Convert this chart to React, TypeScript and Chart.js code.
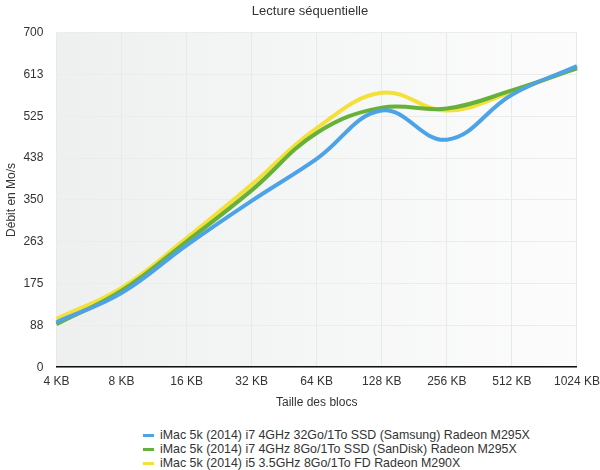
import React, { useEffect, useRef } from "react";
import { Chart, registerables } from "chart.js";

Chart.register(...registerables);

const categories = ["4 KB", "8 KB", "16 KB", "32 KB", "64 KB", "128 KB", "256 KB", "512 KB", "1024 KB"];
const seriesNames = [
  "iMac 5k (2014) i7 4GHz 32Go/1To SSD (Samsung) Radeon M295X",
  "iMac 5k (2014) i7 4GHz 8Go/1To SSD (SanDisk) Radeon M295X",
  "iMac 5k (2014) i5 3.5GHz 8Go/1To FD Radeon M290X",
];
const blueValues = [94, 155, 255, 348, 436, 537, 476, 570, 630];
const greenValues = [90, 160, 263, 370, 490, 543, 541, 579, 625];
const yellowValues = [101, 166, 270, 382, 500, 574, 537, 576, 627];
const seriesColors = ["#4ea3e6", "#66b13a", "#f4e03a"];
const yTicks = [0, 87.5, 175, 262.5, 350, 437.5, 525, 612.5, 700];

const FONT = "'Liberation Sans', Arial, sans-serif";

const bgPlugin = {
  id: "plotBg",
  beforeDraw(chart: any) {
    const { ctx, chartArea } = chart;
    if (!chartArea) return;
    const g = ctx.createLinearGradient(chartArea.left, 0, chartArea.right, 0);
    g.addColorStop(0, "#eef0f0");
    g.addColorStop(1, "#fcfcfc");
    ctx.save();
    ctx.fillStyle = g;
    ctx.fillRect(chartArea.left, chartArea.top, chartArea.right - chartArea.left, chartArea.bottom - chartArea.top);
    ctx.restore();
  },
};

export default function App() {
  const ref = useRef<HTMLCanvasElement>(null);
  useEffect(() => {
    if (!ref.current) return;
    const data = [blueValues, greenValues, yellowValues];
    const chart = new Chart(ref.current, {
      type: "line",
      data: {
        labels: categories,
        datasets: data.map((d, i) => ({
          label: seriesNames[i],
          data: d,
          borderColor: seriesColors[i],
          backgroundColor: seriesColors[i],
          borderWidth: 4,
          pointRadius: 0,
          tension: 0.4,
          fill: false,
          order: i,
        })),
      },
      options: {
        animation: false,
        responsive: false,
        maintainAspectRatio: false,
        layout: { padding: { left: 4, right: -9, top: 0, bottom: 0 } },
        plugins: {
          legend: { display: false },
          tooltip: { enabled: false },
          title: {
            display: true,
            text: "Lecture séquentielle",
            color: "#333",
            font: { family: FONT, size: 13, weight: "normal" },
            padding: { top: 4, bottom: 13 },
          },
        },
        scales: {
          x: {
            offset: false,
            grid: { color: "#e8eaea", drawTicks: false },
            border: { display: true, color: "#111", width: 1.5 },
            ticks: {
              color: "#333",
              font: { family: FONT, size: 12 },
              padding: 7,
              maxRotation: 0,
              autoSkip: false,
            },
            title: {
              display: true,
              text: "Taille des blocs",
              color: "#333",
              font: { family: FONT, size: 12 },
              padding: { top: 0, bottom: 0 },
            },
          },
          y: {
            min: 0,
            max: 700,
            afterBuildTicks(scale: any) {
              scale.ticks = yTicks.map((v) => ({ value: v }));
            },
            afterFit(scale: any) {
              scale.width = scale.width - 8;
            },
            grid: { color: "#ebeded", drawTicks: false },
            border: { display: false },
            ticks: {
              color: "#333",
              font: { family: FONT, size: 12 },
              padding: 13,
              callback: (v: any) => String(Math.round(Number(v))),
            },
            title: {
              display: true,
              text: "Débit en Mo/s",
              color: "#333",
              font: { family: FONT, size: 12 },
              padding: { top: 0, bottom: 0 },
            },
          },
        },
      },
      plugins: [bgPlugin],
    } as any);
    return () => chart.destroy();
  }, []);

  return (
    <div style={{ position: "absolute", left: 0, top: 0, width: 600, height: 470, background: "#fff", fontFamily: FONT, overflow: "hidden" }}>
      <canvas ref={ref} width={607} height={410} style={{ display: "block" }} />
      <div style={{ position: "absolute", left: 143, top: 428 }}>
        {seriesNames.map((n, i) => (
          <div key={n} style={{ display: "flex", alignItems: "center", height: 14, fontSize: 12.4, color: "#333", whiteSpace: "nowrap" }}>
            <span style={{ display: "inline-block", width: 11, height: 3, background: seriesColors[i], marginRight: 6 }} />
            <span>{n}</span>
          </div>
        ))}
      </div>
    </div>
  );
}
